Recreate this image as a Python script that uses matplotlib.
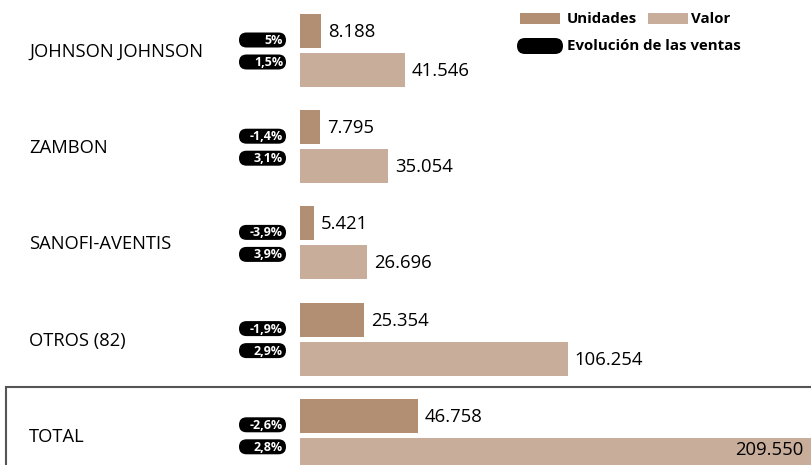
import matplotlib.pyplot as plt
from matplotlib.patches import FancyBboxPatch, Rectangle
from matplotlib.transforms import Affine2D

plt.rcParams['font.family'] = ['Open Sans', 'DejaVu Sans']

# datos (miles)
empresas = ["JOHNSON JOHNSON", "ZAMBON", "SANOFI-AVENTIS", "OTROS (82)", "TOTAL"]
unidades = [8.188, 7.795, 5.421, 25.354, 46.758]
valor = [41.546, 35.054, 26.696, 106.254, 209.550]
evol_unidades = [5, -1.4, -3.9, -1.9, -2.6]
evol_valor = [1.5, 3.1, 3.9, 2.9, 2.8]

c_unid = "#b28f72"
c_valor = "#c8ad9b"

W, H = 811, 465
fig = plt.figure(figsize=(W / 100, H / 100), dpi=100)
# pixel coordinates, origin top-left (texts)
px = Affine2D().scale(1 / W, -1 / H).translate(0, 1) + fig.transFigure
# pixel coordinates, origin bottom-left (patches, no flip)
pxb = Affine2D().scale(1 / W, 1 / H) + fig.transFigure

scale = 2.52   # px per unit
x0 = 300       # bars start here (px)
row = 96.2

ax = fig.add_axes([0, 0, 1, 1])
ax.set_xlim(-x0 / scale, (W - x0) / scale)
ax.set_ylim(H, 0)
ax.axis("off")


def pct(v):
    return "{:g}".format(v).replace(".", ",") + "%"


def pill(x, y, w, h):
    # y is the top edge measured from the top of the figure
    fig.patches.append(FancyBboxPatch((x, H - y - h), w, h,
                                      boxstyle="round,pad=0,rounding_size=%g" % (h / 2),
                                      fc="black", ec="none", transform=pxb))


for i, name in enumerate(empresas):
    yu = 31 + row * i
    yv = 70 + row * i
    ax.barh(yu, unidades[i], height=34, color=c_unid)
    ax.barh(yv, valor[i], height=34, color=c_valor)

    ax.text(unidades[i] + 7 / scale, yu + 1, "{:.3f}".format(unidades[i]),
            fontsize=13.3, va="center", ha="left")
    if valor[i] * scale + x0 < W - 60:
        ax.text(valor[i] + 7 / scale, yv + 1, "{:.3f}".format(valor[i]),
                fontsize=13.3, va="center", ha="left")
    else:
        ax.text(804, yv - 5, "{:.3f}".format(valor[i]), transform=px,
                fontsize=13.3, va="center", ha="right")

    fig.text(29, 52 + row * i, name, transform=px, fontsize=13.2, va="center")

    for yy, v in [(40 + row * i, evol_unidades[i]), (62 + row * i, evol_valor[i])]:
        pill(239, yy - 7.5, 47, 15)
        fig.text(283, yy + 0.5, pct(v), transform=px, color="white",
                 fontsize=9, fontweight="bold", ha="right", va="center")

# marco del total
fig.patches.append(Rectangle((6, H - 387 - 100), 820, 100, fill=False, ec="#555555",
                             lw=1.5, transform=pxb))

# leyenda
fig.patches.append(Rectangle((520, H - 24), 40, 11, fc=c_unid, ec="none", transform=pxb))
fig.text(567, 19, "Unidades", transform=px, fontsize=10.8, fontweight="bold", va="center")
fig.patches.append(Rectangle((648, H - 24), 40, 11, fc=c_valor, ec="none", transform=pxb))
fig.text(691, 19, "Valor", transform=px, fontsize=10.8, fontweight="bold", va="center")
pill(517, 38, 46, 16)
fig.text(567, 46, "Evolución de las ventas", transform=px, fontsize=10.8,
         fontweight="bold", va="center")

fig.savefig("out.png", dpi=100)
